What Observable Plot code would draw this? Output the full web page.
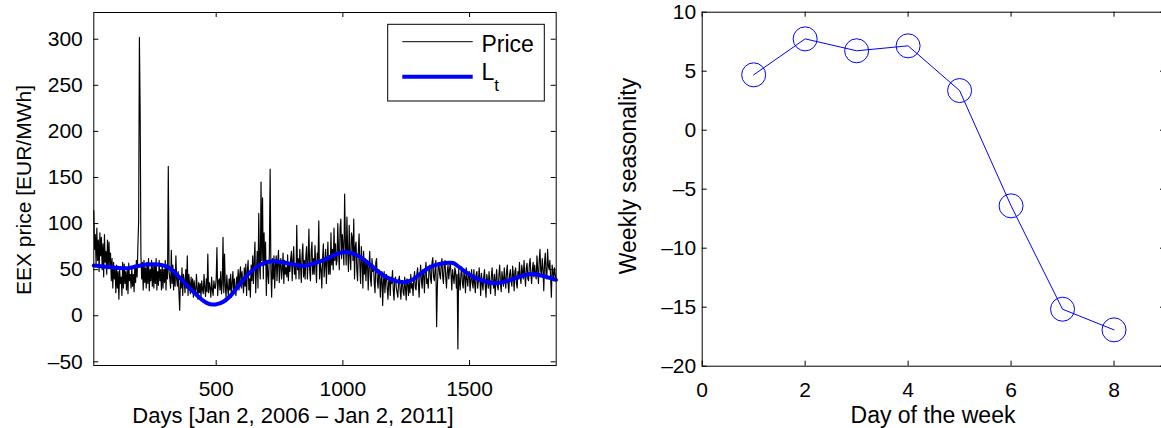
<!DOCTYPE html>
<html><head><meta charset="utf-8">
<script src="https://cdn.jsdelivr.net/npm/d3@7"></script>
<script src="https://cdn.jsdelivr.net/npm/@observablehq/plot@0.6"></script>
<style>
html,body{margin:0;padding:0;background:#fff;overflow:hidden;}
#wrap{position:relative;width:1161px;height:428px;overflow:hidden;font-family:"Liberation Sans",Arial,Helvetica,sans-serif;}
#wrap svg{position:absolute;top:0;}
</style></head><body><div id="wrap"></div>
<script>
// ---- data ----
const priceStartDay = 17;
const priceStepDays = 3;
const priceValues = [
  114, 72, 88, 55, 95, 60, 82, 48, 90, 65,
  85, 50, 78, 42, 88, 58, 70, 45, 82, 52,
  80, 55, 68, 38, 62, 30, 58, 40, 52, 25,
  55, 30, 48, 18, 50, 35, 42, 22, 58, 30,
  56, 35, 48, 28, 50, 24, 57, 38, 45, 30,
  52, 32, 45, 26, 55, 36, 60, 42, 75, 103,
  302, 222, 65, 40, 58, 28, 60, 36, 52, 30,
  58, 35, 62, 27, 50, 38, 60, 32, 55, 30,
  55, 35, 62, 28, 48, 33, 60, 38, 50, 28,
  56, 30, 50, 36, 60, 28, 55, 40, 162, 48,
  40, 30, 71, 35, 55, 28, 50, 32, 65, 40,
  32, 48, 25, 6, 40, 30, 52, 22, 45, 38,
  25, 50, 30, 65, 22, 45, 35, 24, 42, 28,
  40, 20, 38, 28, 22, 45, 30, 18, 36, 25,
  35, 20, 38, 28, 24, 45, 30, 21, 40, 26,
  67, 25, 36, 30, 20, 42, 28, 22, 38, 30,
  30, 40, 74, 22, 38, 40, 28, 48, 24, 35,
  85, 25, 67, 32, 20, 44, 30, 22, 40, 28,
  45, 20, 36, 48, 25, 40, 30, 22, 42, 35,
  50, 28, 44, 53, 30, 48, 35, 25, 52, 32,
  56, 22, 48, 60, 28, 40, 20, 55, 38, 65,
  35, 60, 80, 25, 50, 70, 30, 111, 55, 40,
  145, 60, 128, 40, 90, 55, 80, 22, 60, 45,
  35, 70, 159, 48, 20, 62, 40, 65, 30, 55,
  65, 38, 58, 71, 36, 55, 62, 40, 50, 68,
  35, 60, 45, 52, 42, 66, 38, 58, 48, 62,
  70, 38, 60, 75, 45, 55, 40, 98, 50, 62,
  40, 72, 55, 36, 65, 78, 42, 60, 40, 65,
  75, 40, 60, 94, 50, 38, 70, 80, 45, 62,
  45, 76, 55, 36, 68, 60, 103, 40, 58, 50,
  30, 62, 78, 42, 55, 72, 35, 60, 80, 45,
  65, 45, 90, 55, 72, 50, 95, 60, 78, 55,
  60, 100, 70, 50, 95, 105, 62, 88, 75, 55,
  132, 80, 55, 107, 70, 48, 98, 65, 50, 90,
  85, 60, 105, 40, 75, 80, 50, 38, 70, 89,
  55, 35, 75, 60, 30, 70, 45, 62, 38, 58,
  60, 28, 52, 70, 40, 32, 62, 48, 55, 35,
  25, 58, 62, 38, 30, 50, 45, 20, 40, 48,
  11, 35, 48, 25, 40, 45, 30, 18, 38, 40,
  22, 42, 35, 49, 28, 17, 40, 42, 30, 25,
  20, 38, 43, 28, 18, 35, 38, 25, 22, 42,
  30, 17, 40, 35, 22, 38, 25, 45, 30, 35,
  22, 40, 48, 30, 28, 45, 52, 35, 20, 42,
  55, 38, 30, 50, 45, 25, 48, 58, 35, 40,
  30, 50, 55, 40, 35, 58, 63, 42, 38, 50,
  60, -12, 32, 52, 58, 45, 40, 55, 62, 42,
  35, 55, 60, 42, 30, 48, 55, 40, 50, 58,
  45, 28, 50, 42, 35, 52, 48, 30, 45, -36,
  50, 38, 28, 45, 53, 35, 30, 48, 42, 25,
  52, 40, 32, 45, 48, 27, 38, 50, 35, 30,
  50, 35, 25, 45, 48, 30, 38, 52, 40, 22,
  46, 35, 28, 42, 50, 32, 20, 45, 38, 30,
  48, 35, 24, 42, 52, 38, 30, 45, 22, 40,
  50, 32, 28, 45, 55, 35, 26, 48, 40, 32,
  52, 40, 30, 48, 55, 35, 25, 45, 50, 38,
  32, 54, 45, 27, 48, 52, 35, 30, 48, 40,
  58, 42, 35, 55, 48, 40, 60, 45, 32, 52,
  57, 40, 38, 55, 62, 45, 35, 50, 58, 42,
  55, 45, 40, 65, 50, 35, 60, 72, 48, 45,
  62, 50, 27, 58, 68, 45, 40, 72, 55, 50,
  60, 42, 20, 55, 48, 38, 52, 45, 40
];
const trendDays = [17, 83, 149, 201, 267, 320, 372, 425, 464, 497, 530, 569, 622, 675, 727, 793, 852, 925, 977, 1017, 1069, 1135, 1188, 1234, 1280, 1345, 1418, 1451, 1517, 1596, 1648, 1714, 1766, 1841];
const trendValues = [54.5, 52.7, 51.6, 54.5, 55.6, 50.9, 36.5, 22, 13.7, 12.3, 15.5, 25.6, 43.7, 55.6, 59.2, 56.3, 54.5, 60.6, 67.1, 69, 63.5, 49, 39.7, 36.5, 40, 52.7, 57.4, 54.5, 41.9, 35.4, 37.5, 43.7, 44.8, 39];
const weekDays = [1, 2, 3, 4, 5, 6, 7, 8];
const weeklySeasonality = [4.69, 7.74, 6.73, 7.15, 3.36, -6.41, -15.17, -16.92];
const leftXTicks = [500, 1000, 1500];
const leftYTicks = [-50, 0, 50, 100, 150, 200, 250, 300];
const rightXTicks = [0, 2, 4, 6, 8];
const rightYTicks = [-20, -15, -10, -5, 0, 5, 10];

// ---- layout ----
const wrap = document.getElementById("wrap");
const FONT = '"Liberation Sans", Arial, Helvetica, sans-serif';
const TICK = 5;
const fmt = d => (d < 0 ? "\u2013" + Math.abs(d) : String(d));

const price = priceValues.map((v, i) => ({day: priceStartDay + i * priceStepDays, value: v}));
const trend = trendDays.map((d, i) => ({day: d, value: trendValues[i]}));
const week = weekDays.map((d, i) => ({day: d, value: weeklySeasonality[i]}));

function boxAxes(fw, fh, xt, yt, padX, padY) {
  return [
    Plot.tickX(xt, {x: d => d, insetTop: fh - TICK, stroke: "black"}),
    Plot.tickX(xt, {x: d => d, insetBottom: fh - TICK, stroke: "black"}),
    Plot.tickY(yt, {y: d => d, insetRight: fw - TICK, stroke: "black"}),
    Plot.tickY(yt, {y: d => d, insetLeft: fw - TICK, stroke: "black"}),
    Plot.axisX({ticks: xt, tickSize: 0, tickPadding: padX, tickFormat: fmt, label: null, fontSize: 21}),
    Plot.axisY({ticks: yt, tickSize: 0, tickPadding: padY, tickFormat: fmt, label: null, fontSize: 21}),
    Plot.frame({stroke: "black", strokeWidth: 1})
  ];
}

// left panel
const L = {x: 0, w: 580, left: 93.3, right: 555.7, top: 12, bottom: 365};
const leftPlot = Plot.plot({
  width: L.w, height: 428,
  marginLeft: L.left, marginRight: L.w - L.right, marginTop: L.top, marginBottom: 428 - L.bottom,
  style: {fontFamily: FONT, fontSize: "21px", color: "black", background: "transparent", overflow: "visible"},
  x: {domain: [17, 1842]},
  y: {domain: [-54, 329]},
  marks: [
    Plot.line(price, {x: "day", y: "value", stroke: "black", strokeWidth: 1.15}),
    Plot.line(trend, {x: "day", y: "value", stroke: "#0000ff", strokeWidth: 4, curve: "natural"}),
    ...boxAxes(L.right - L.left, L.bottom - L.top, leftXTicks, leftYTicks, 16, 11)
  ]
});
leftPlot.style.left = L.x + "px";
wrap.appendChild(leftPlot);

// right panel
const R = {x: 600, w: 570, left: 101.7, right: 565, top: 11.7, bottom: 365.7};
const rightPlot = Plot.plot({
  width: R.w, height: 428,
  marginLeft: R.left, marginRight: R.w - R.right, marginTop: R.top, marginBottom: 428 - R.bottom,
  style: {fontFamily: FONT, fontSize: "21px", color: "black", background: "transparent", overflow: "visible"},
  x: {domain: [0, 9]},
  y: {domain: [-20, 10]},
  marks: [
    Plot.line(week, {x: "day", y: "value", stroke: "#0000ff", strokeWidth: 1}),
    Plot.dot(week, {x: "day", y: "value", r: 12, stroke: "#0000ff", fill: "none", strokeWidth: 1}),
    ...boxAxes(R.right - R.left, R.bottom - R.top, rightXTicks, rightYTicks, 16, 6)
  ]
});
rightPlot.style.left = R.x + "px";
wrap.appendChild(rightPlot);

// overlay: axis titles and legend
const ns = "http://www.w3.org/2000/svg";
const ov = document.createElementNS(ns, "svg");
ov.setAttribute("width", 1161); ov.setAttribute("height", 428);
ov.style.left = "0px";
ov.setAttribute("font-family", FONT);
ov.innerHTML = `
  <text x="293" y="423" font-size="22" text-anchor="middle">Days [Jan 2, 2006 – Jan 2, 2011]</text>
  <text x="933" y="423" font-size="23" text-anchor="middle">Day of the week</text>
  <text transform="translate(31,190) rotate(-90)" font-size="21" text-anchor="middle">EEX price [EUR/MWh]</text>
  <text transform="translate(636,176) rotate(-90)" font-size="23" text-anchor="middle">Weekly seasonality</text>
  <rect x="387.7" y="24.3" width="156.6" height="76.7" fill="white" stroke="black" stroke-width="1"/>
  <line x1="402.3" x2="472.7" y1="41.7" y2="41.7" stroke="black" stroke-width="1"/>
  <line x1="402.3" x2="472.7" y1="76.7" y2="76.7" stroke="#0000ff" stroke-width="4"/>
  <text x="481.5" y="51.5" font-size="23">Price</text>
  <text x="481.5" y="80" font-size="23">L<tspan font-size="17" dy="11">t</tspan></text>
`;
wrap.appendChild(ov);
</script></body></html>
